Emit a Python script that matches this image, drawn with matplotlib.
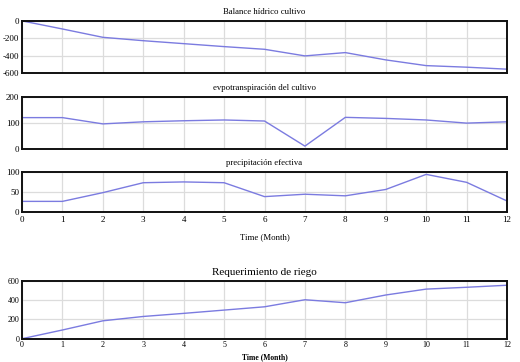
import matplotlib.pyplot as plt

plt.rcParams['font.family'] = ['Liberation Serif', 'DejaVu Serif']
plt.rcParams['axes.unicode_minus'] = False

months = list(range(13))
balance = [0, -93, -189, -228, -262, -296, -327, -403, -365, -449, -515, -533, -556]
evapo = [120, 120, 96, 104, 108, 111, 107, 11, 121, 117, 111, 99, 104]
precip = [26, 26, 48, 73, 75, 73, 38, 44, 40, 56, 94, 74, 27]
requerimiento = [0, 90, 185, 230, 262, 296, 330, 403, 372, 452, 513, 532, 553]

W, H = 520, 362
line_color = '#7b7be0'


def make_axes(fig, top, bottom):
    ax = fig.add_axes([22 / W, 1 - bottom / H, 485 / W, (bottom - top) / H])
    ax.set_xlim(0, 12)
    ax.set_xticks(months)
    ax.grid(True, color='#dcdcdc', linewidth=0.9)
    ax.set_axisbelow(True)
    ax.tick_params(length=0, labelsize=6.5, pad=2)
    for s in ax.spines.values():
        s.set_linewidth(1.4)
        s.set_color('#111111')
    return ax


fig = plt.figure(figsize=(W / 100, H / 100), dpi=100)

ax1 = make_axes(fig, 20.9, 73)
ax1.plot(months, balance, color=line_color, linewidth=1)
ax1.set_ylim(-600, 0)
ax1.set_yticks([-600, -400, -200, 0])
ax1.set_xticklabels([])
ax1.set_title('Balance hídrico cultivo', fontsize=6.3, pad=5)

ax2 = make_axes(fig, 96.7, 149)
ax2.plot(months, evapo, color=line_color, linewidth=1)
ax2.set_ylim(0, 200)
ax2.set_yticks([0, 100, 200])
ax2.set_xticklabels([])
ax2.set_title('evpotranspiración del cultivo', fontsize=6.3, pad=5)

ax3 = make_axes(fig, 172, 211.7)
ax3.plot(months, precip, color=line_color, linewidth=1)
ax3.set_ylim(0, 100)
ax3.set_yticks([0, 50, 100])
ax3.tick_params(axis='x', pad=3)
ax3.set_title('precipitación efectiva', fontsize=6.3, pad=5)
ax3.set_xlabel('Time (Month)', fontsize=6.3, labelpad=7)

ax4 = make_axes(fig, 280.7, 338.7)
ax4.plot(months, requerimiento, color=line_color, linewidth=1)
ax4.set_ylim(0, 600)
ax4.set_yticks([0, 200, 400, 600])
ax4.tick_params(labelsize=5.8)
ax4.set_title('Requerimiento de riego', fontsize=8, pad=4)
ax4.set_xlabel('Time (Month)', fontsize=5.5, labelpad=3, fontweight='bold')

fig.savefig('out.png', dpi=100)
